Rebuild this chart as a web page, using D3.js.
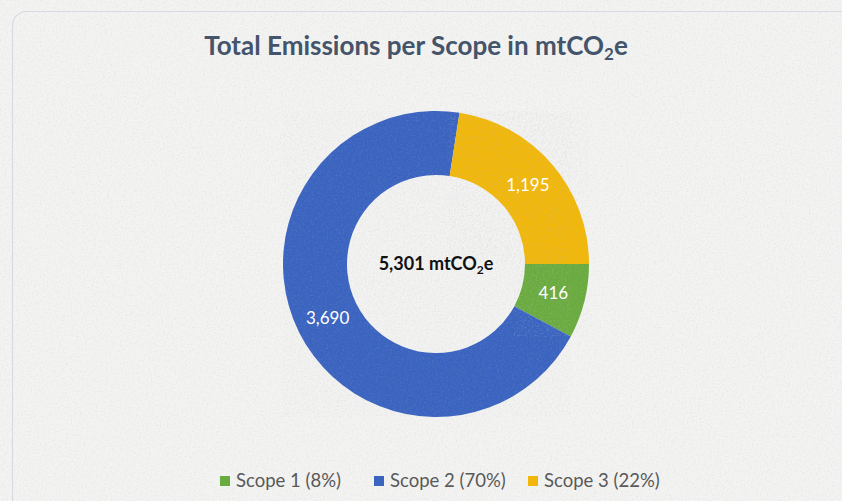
<!DOCTYPE html>
<html>
<head>
<meta charset="utf-8">
<script src="https://cdn.jsdelivr.net/npm/d3@7"></script>
<style>
  html, body { margin: 0; padding: 0; background: #f1f1f0; }
  svg { display: block; }
</style>
</head>
<body>
<div id="viz"></div>
<script>
// chart data
var categories = ["Scope 1", "Scope 2", "Scope 3"];
var values = [416, 3690, 1195];
var legendPercents = ["8%", "70%", "22%"];
var colors = ["#6aab3f", "#3b64c0", "#f1b70a"];
var totalLabel = "5,301";

var width = 842, height = 501;
var center = {x: 436, y: 264};
var outerR = 153, innerR = 89;

var SVG = d3.select("#viz").append("svg")
    .attr("width", width)
    .attr("height", height);

// paper texture
var defs = SVG.append("defs");
var paper = defs.append("filter").attr("id", "paper")
    .attr("x", 0).attr("y", 0).attr("width", "100%").attr("height", "100%");
paper.append("feTurbulence")
    .attr("type", "fractalNoise")
    .attr("baseFrequency", 0.55)
    .attr("numOctaves", 3)
    .attr("seed", 4)
    .attr("result", "noise");
paper.append("feColorMatrix")
    .attr("in", "noise")
    .attr("type", "matrix")
    .attr("values", "0 0 0 0 0.55  0 0 0 0 0.56  0 0 0 0 0.58  0 0 0 -1.1 0.6");

SVG.append("rect")
    .attr("width", width).attr("height", height)
    .attr("fill", "#f3f3f2");
SVG.append("rect")
    .attr("width", width).attr("height", height)
    .attr("filter", "url(#paper)")
    .attr("opacity", 0.5);

// card border
SVG.append("rect")
    .attr("x", 12.5).attr("y", 11.5)
    .attr("width", 860).attr("height", 520)
    .attr("rx", 14)
    .attr("fill", "none")
    .attr("stroke", "#d6dbe2")
    .attr("stroke-width", 1.2);

// title
var title = SVG.append("text")
    .attr("x", 416).attr("y", 55)
    .attr("text-anchor", "middle")
    .style("font-family", "Lato, 'Open Sans', sans-serif")
    .style("font-weight", "bold")
    .style("font-size", "26px")
    .style("fill", "#44546a");
title.append("tspan").text("Total Emissions per Scope in mtCO");
title.append("tspan").text("2").attr("dy", 5).style("font-size", "17px");
title.append("tspan").text("e").attr("dy", -5);

// donut
var pie = d3.pie()
    .sort(null)
    .startAngle(Math.PI / 2)
    .endAngle(Math.PI / 2 + 2 * Math.PI);
var arc = d3.arc().innerRadius(innerR).outerRadius(outerR);
var labelArc = d3.arc().innerRadius((innerR + outerR) / 2).outerRadius((innerR + outerR) / 2);

var g = SVG.append("g").attr("transform", "translate(" + center.x + "," + center.y + ")");
var arcs = pie(values);

g.selectAll("path.slice")
    .data(arcs)
    .enter().append("path")
    .attr("class", "slice")
    .attr("d", arc)
    .attr("fill", function(d, i) { return colors[i]; });

// a bit of the paper showing through the slices
g.selectAll("path.grain")
    .data(arcs)
    .enter().append("path")
    .attr("class", "grain")
    .attr("d", arc)
    .attr("filter", "url(#paper)")
    .attr("opacity", 0.3);

g.selectAll("text.value")
    .data(arcs)
    .enter().append("text")
    .attr("class", "value")
    .attr("transform", function(d) { return "translate(" + labelArc.centroid(d) + ")"; })
    .attr("text-anchor", "middle")
    .attr("dy", "0.35em")
    .style("font-family", "Lato, 'Open Sans', sans-serif")
    .style("font-size", "17px")
    .style("fill", "#ffffff")
    .text(function(d) { return d3.format(",")(d.data); });

// center total
var total = g.append("text")
    .attr("text-anchor", "middle")
    .attr("y", 6)
    .style("font-family", "Lato, 'Open Sans', sans-serif")
    .style("font-weight", "bold")
    .style("font-size", "18px")
    .style("fill", "#111111");
total.append("tspan").text(totalLabel + " mtCO");
total.append("tspan").text("2").attr("dy", 4).style("font-size", "12px");
total.append("tspan").text("e").attr("dy", -4);

// legend
var legendX = [220, 374, 528];
var legend = SVG.append("g").selectAll("g")
    .data(categories)
    .enter().append("g")
    .attr("transform", function(d, i) { return "translate(" + legendX[i] + ",476)"; });
legend.append("rect")
    .attr("width", 10).attr("height", 10)
    .attr("fill", function(d, i) { return colors[i]; });
legend.append("text")
    .attr("x", 16).attr("y", 11)
    .style("font-family", "Lato, 'Open Sans', sans-serif")
    .style("font-size", "18.5px")
    .style("fill", "#595959")
    .text(function(d, i) { return d + " (" + legendPercents[i] + ")"; });
</script>
</body>
</html>
